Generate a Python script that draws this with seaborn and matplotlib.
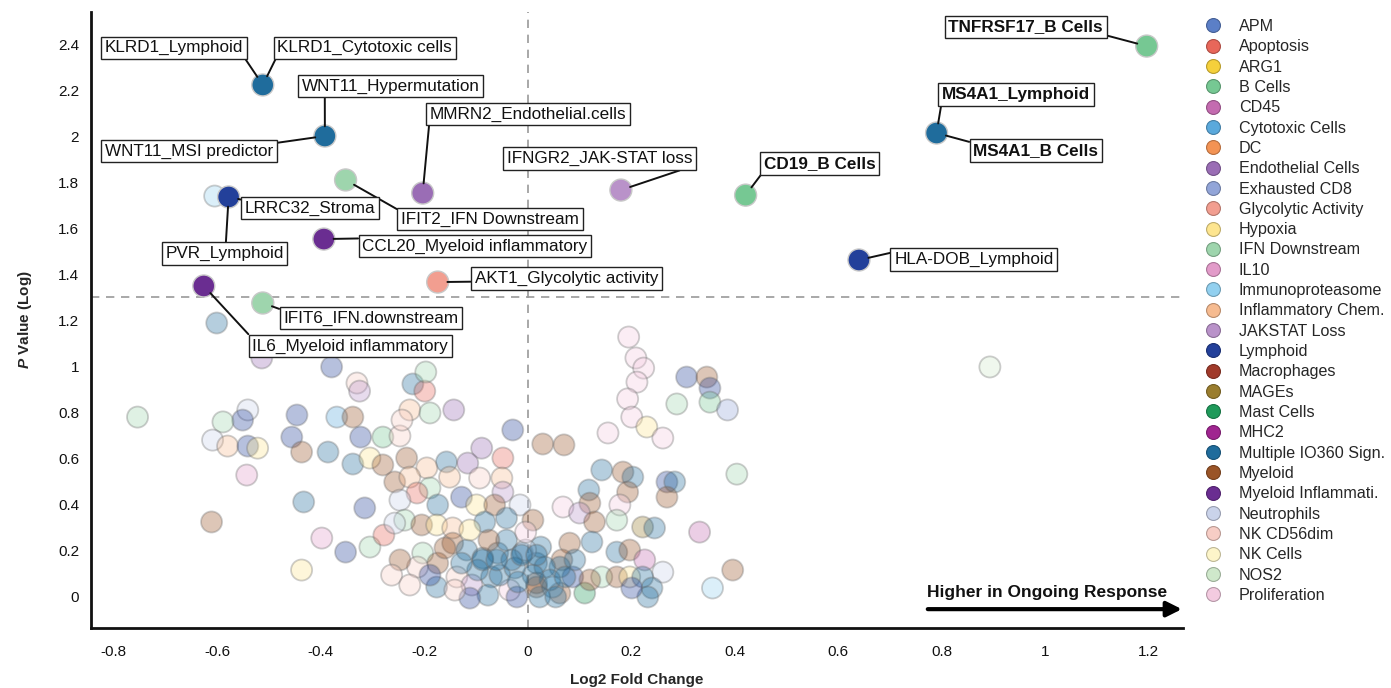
import matplotlib
matplotlib.use("Agg")
import matplotlib.pyplot as plt
import matplotlib.colors as mcolors
import seaborn as sns
import pandas as pd
from matplotlib.lines import Line2D
from matplotlib.ticker import FuncFormatter, MultipleLocator

# ---------------- data ----------------
categories = ["APM", "Apoptosis", "ARG1", "B Cells", "CD45", "Cytotoxic Cells", "DC",
              "Endothelial Cells", "Exhausted CD8", "Glycolytic Activity", "Hypoxia",
              "IFN Downstream", "IL10", "Immunoproteasome", "Inflammatory Chem.",
              "JAKSTAT Loss", "Lymphoid", "Macrophages", "MAGEs", "Mast Cells", "MHC2",
              "Multiple IO360 Sign.", "Myeloid", "Myeloid Inflammati.", "Neutrophils",
              "NK CD56dim", "NK Cells", "NOS2", "Proliferation"]
category_colors = ["#5b7fc7", "#e8675a", "#f5d03b", "#76c893", "#c46bb0", "#5aa9dc", "#f39354",
                   "#9a6db5", "#92a5d8", "#f29e90", "#fde58f", "#9ed5ad", "#e29bc9", "#92d0ef",
                   "#f6bb90", "#b992c9", "#23409a", "#a13a2a", "#9a7d2e", "#1f9a5a", "#a02590",
                   "#1f6c9c", "#9a5427", "#6a2d91", "#cad3ea", "#f7cdc5", "#fdf5c9", "#cfe8cb",
                   "#f3cbe0"]

# non-significant / background signatures
bg_x = [-0.754, -0.601, -0.605, -0.514, -0.379, -0.330, -0.325, -0.222, -0.199, -0.197,
        -0.541, -0.551, -0.589, -0.609, -0.580, -0.541, -0.522, -0.446, -0.456, -0.437,
        -0.369, -0.338, -0.386, -0.323, -0.280, -0.247, -0.338, -0.305, -0.280, -0.234,
        -0.257, -0.543, -0.433, -0.315, -0.611, -0.398, -0.352, -0.305, -0.278, -0.437,
        -0.176, -0.143, -0.228, -0.243, -0.189, -0.029, -0.089, -0.157, -0.116, -0.048,
        -0.195, -0.228, -0.151, -0.093, -0.050, -0.048, -0.189, -0.214, -0.247, -0.174,
        -0.128, -0.099, -0.064, -0.015, -0.238, -0.205, -0.176, -0.145, -0.083, -0.041,
        0.010, -0.257, -0.203, -0.174, -0.213, -0.145, -0.118, -0.087, -0.058, -0.041,
        -0.010, 0.017, -0.137, -0.108, -0.070, -0.035, -0.021, 0.017, 0.195, 0.209,
        0.224, 0.211, 0.193, 0.201, 0.230, 0.261, 0.155, 0.307, 0.346, 0.352,
        0.288, 0.352, 0.386, 0.029, 0.070, 0.404, 0.143, 0.184, 0.203, 0.193,
        0.118, 0.120, 0.178, 0.269, 0.284, 0.269, 0.068, 0.100, 0.129, 0.172,
        0.222, 0.245, 0.332, 0.124, 0.081, 0.172, 0.197, 0.066, 0.226, 0.261,
        0.396, 0.357, 0.143, 0.172, 0.197, 0.222, 0.240, 0.232, 0.201, 0.110,
        0.062, 0.048, 0.017, 0.087, 0.062, 0.893, 0.025, 0.033, 0.043, 0.010,
        0.023, 0.054, 0.091, 0.120, -0.054, -0.025, -0.077, -0.112, -0.141, -0.004,
        -0.004, -0.075, -0.112, -0.160, -0.189, -0.247, -0.263, -0.228, -0.031, -0.097,
        -0.128, -0.087, -0.060, -0.012, 0.017, 0.072, -0.019]
bg_y = [0.778, 1.187, 1.739, 1.035, 0.996, 0.926, 0.891, 0.922, 0.891, 0.974,
        0.809, 0.765, 0.757, 0.678, 0.652, 0.652, 0.643, 0.787, 0.691, 0.626,
        0.778, 0.778, 0.626, 0.691, 0.691, 0.696, 0.574, 0.600, 0.570, 0.600,
        0.496, 0.526, 0.409, 0.383, 0.322, 0.252, 0.191, 0.213, 0.265, 0.113,
        0.039, 0.809, 0.809, 0.765, 0.796, 0.722, 0.643, 0.583, 0.578, 0.600,
        0.557, 0.517, 0.517, 0.513, 0.513, 0.452, 0.470, 0.448, 0.417, 0.396,
        0.430, 0.396, 0.396, 0.396, 0.330, 0.309, 0.309, 0.296, 0.322, 0.339,
        0.330, 0.317, 0.187, 0.143, 0.126, 0.230, 0.200, 0.165, 0.187, 0.243,
        0.187, 0.143, 0.083, 0.048, 0.083, 0.026, -0.004, 0.057, 1.126, 1.035,
        0.991, 0.930, 0.857, 0.778, 0.735, 0.687, 0.709, 0.952, 0.952, 0.904,
        0.835, 0.843, 0.809, 0.661, 0.657, 0.530, 0.548, 0.539, 0.517, 0.452,
        0.461, 0.404, 0.396, 0.496, 0.496, 0.430, 0.387, 0.361, 0.322, 0.330,
        0.300, 0.296, 0.278, 0.235, 0.230, 0.191, 0.200, 0.157, 0.157, 0.104,
        0.113, 0.035, 0.083, 0.083, 0.083, 0.083, 0.035, -0.004, 0.035, 0.013,
        0.013, 0.039, 0.039, 0.083, 0.126, 0.996, 0.213, 0.126, 0.070, 0.091,
        -0.004, -0.004, 0.157, 0.070, 0.091, 0.122, 0.004, -0.009, 0.026, 0.200,
        0.278, 0.243, 0.287, 0.209, 0.091, 0.157, 0.091, 0.048, 0.157, 0.113,
        0.143, 0.157, 0.157, 0.178, 0.178, 0.083, 0.061]
bg_cat = ["IFN Downstream", "Multiple IO360 Sign.", "Immunoproteasome", "Endothelial Cells",
          "Lymphoid", "NK CD56dim", "JAKSTAT Loss", "Multiple IO360 Sign.", "Apoptosis",
          "IFN Downstream",
          "Neutrophils", "Lymphoid", "IFN Downstream", "Neutrophils", "Inflammatory Chem.",
          "Lymphoid", "Hypoxia", "Lymphoid", "Lymphoid", "Myeloid",
          "Cytotoxic Cells", "Myeloid", "Multiple IO360 Sign.", "Lymphoid", "B Cells",
          "NK CD56dim", "Multiple IO360 Sign.", "Hypoxia", "Myeloid", "Myeloid",
          "Myeloid", "IL10", "Multiple IO360 Sign.", "Lymphoid", "Myeloid",
          "IL10", "Lymphoid", "IFN Downstream", "Apoptosis", "Hypoxia",
          "Multiple IO360 Sign.", "Endothelial Cells", "Inflammatory Chem.", "NK CD56dim",
          "IFN Downstream", "Lymphoid", "Endothelial Cells", "Multiple IO360 Sign.",
          "Endothelial Cells", "Apoptosis",
          "Inflammatory Chem.", "Inflammatory Chem.", "Inflammatory Chem.", "NK CD56dim",
          "Inflammatory Chem.", "JAKSTAT Loss", "IFN Downstream", "Apoptosis", "Neutrophils",
          "Multiple IO360 Sign.",
          "Lymphoid", "Hypoxia", "Myeloid", "Neutrophils", "IFN Downstream",
          "Myeloid", "Hypoxia", "Inflammatory Chem.", "Multiple IO360 Sign.",
          "Multiple IO360 Sign.",
          "Myeloid", "Neutrophils", "IFN Downstream", "Myeloid", "NK CD56dim",
          "Myeloid", "Multiple IO360 Sign.", "Multiple IO360 Sign.", "Multiple IO360 Sign.",
          "Multiple IO360 Sign.",
          "Multiple IO360 Sign.", "Multiple IO360 Sign.", "NK CD56dim", "JAKSTAT Loss",
          "Multiple IO360 Sign.", "Proliferation", "Lymphoid", "Myeloid", "Proliferation",
          "Proliferation",
          "Proliferation", "Proliferation", "Proliferation", "Proliferation", "Hypoxia",
          "Proliferation", "Proliferation", "Lymphoid", "Myeloid", "Lymphoid",
          "IFN Downstream", "B Cells", "Exhausted CD8", "Myeloid", "Myeloid",
          "IFN Downstream", "Multiple IO360 Sign.", "Myeloid", "Multiple IO360 Sign.", "Myeloid",
          "Multiple IO360 Sign.", "Myeloid", "Proliferation", "Lymphoid",
          "Multiple IO360 Sign.", "Myeloid", "Proliferation", "JAKSTAT Loss", "Myeloid",
          "IFN Downstream",
          "MAGEs", "Multiple IO360 Sign.", "CD45", "Multiple IO360 Sign.", "Myeloid",
          "Multiple IO360 Sign.", "Myeloid", "Myeloid", "CD45", "Neutrophils",
          "Myeloid", "Immunoproteasome", "IFN Downstream", "Myeloid", "Hypoxia",
          "Multiple IO360 Sign.", "Multiple IO360 Sign.", "Multiple IO360 Sign.", "Lymphoid",
          "Mast Cells",
          "Myeloid", "Cytotoxic Cells", "Myeloid", "Lymphoid", "Multiple IO360 Sign.",
          "NOS2", "Multiple IO360 Sign.", "Multiple IO360 Sign.", "Multiple IO360 Sign.",
          "Multiple IO360 Sign.",
          "Multiple IO360 Sign.", "Multiple IO360 Sign.", "Multiple IO360 Sign.", "Myeloid",
          "Multiple IO360 Sign.", "Multiple IO360 Sign.", "Multiple IO360 Sign.", "Lymphoid",
          "NK CD56dim", "Neutrophils",
          "Proliferation", "Myeloid", "Hypoxia", "Myeloid", "Lymphoid", "Myeloid",
          "NK CD56dim", "NK CD56dim", "Multiple IO360 Sign.", "Multiple IO360 Sign.",
          "Multiple IO360 Sign.", "Multiple IO360 Sign.", "Multiple IO360 Sign.",
          "Multiple IO360 Sign.", "Multiple IO360 Sign.", "Multiple IO360 Sign.",
          "Multiple IO360 Sign."]

# significant / highlighted signatures
hl_x = [1.196, 0.790, -0.512, -0.392, 0.421, 0.640, 0.180, -0.203, -0.352, -0.578,
        -0.394, -0.174, -0.626, -0.512]
hl_y = [2.391, 2.013, 2.222, 2.000, 1.743, 1.461, 1.765, 1.752, 1.809, 1.735,
        1.552, 1.365, 1.348, 1.274]
hl_cat = ["B Cells", "Multiple IO360 Sign.", "Multiple IO360 Sign.", "Multiple IO360 Sign.",
          "B Cells", "Lymphoid", "JAKSTAT Loss", "Endothelial Cells", "IFN Downstream",
          "Lymphoid", "Myeloid Inflammati.", "Glycolytic Activity", "Myeloid Inflammati.",
          "IFN Downstream"]

label_text = ["TNFRSF17_B Cells", "MS4A1_Lymphoid", "MS4A1_B Cells", "KLRD1_Lymphoid",
              "KLRD1_Cytotoxic cells", "WNT11_Hypermutation", "WNT11_MSI predictor",
              "CD19_B Cells", "HLA-DOB_Lymphoid", "IFNGR2_JAK-STAT loss",
              "MMRN2_Endothelial.cells", "IFIT2_IFN Downstream", "LRRC32_Stroma",
              "PVR_Lymphoid", "CCL20_Myeloid inflammatory", "AKT1_Glycolytic activity",
              "IL6_Myeloid inflammatory", "IFIT6_IFN.downstream"]
label_point = [0, 1, 1, 2, 2, 3, 3, 4, 5, 6, 7, 8, 9, 9, 10, 11, 12, 13]
label_bold = [True, True, True, False, False, False, False, True, False, False,
              False, False, False, False, False, False, False, False]

# ---------------- layout (label box centres, connector anchors) ----------------
label_pos = [(0.962, 2.474), (0.943, 2.180), (0.982, 1.937), (-0.684, 2.383),
             (-0.315, 2.383), (-0.265, 2.217), (-0.655, 1.935), (0.564, 1.880),
             (0.862, 1.463), (0.139, 1.902), (0.000, 2.096), (-0.073, 1.639),
             (-0.420, 1.687), (-0.586, 1.489), (-0.102, 1.522), (0.075, 1.380),
             (-0.343, 1.087), (-0.303, 1.209)]
label_relpos = [(1, 0), (0, 0), (0, 1), (1, 0), (0, 0), (0.13, 0), (1, 1), (0, 0),
                (0, 1), (1, 0), (0, 0), (0, 1), (0, 1), (0.51, 1), (0, 1), (0, 0.3),
                (0, 1), (0, 1)]

# ---------------- style ----------------
sns.set_style("white")
plt.rcParams["font.family"] = ["Liberation Sans", "DejaVu Sans"]
plt.rcParams["mathtext.fontset"] = "custom"
plt.rcParams["mathtext.it"] = "Liberation Sans:italic:bold"
plt.rcParams["mathtext.rm"] = "Liberation Sans:bold"

palette = dict(zip(categories, category_colors))

fig = plt.figure(figsize=(13.91, 6.88), dpi=100)
ax = fig.add_axes([0.0654, 0.0872, 0.7850, 0.8953])

bg = pd.DataFrame({"x": bg_x, "y": bg_y, "cat": bg_cat})
hl = pd.DataFrame({"x": hl_x, "y": hl_y, "cat": hl_cat})

ax.axhline(1.3, color="#9a9a9a", lw=1.2, ls=(0, (5, 4)), zorder=0)
ax.axvline(0, color="#9a9a9a", lw=1.2, ls=(0, (5, 4)), zorder=0)

sns.scatterplot(data=bg, x="x", y="y", hue="cat", palette=palette, s=230, alpha=0.33,
                edgecolor="#6a6a6a", linewidth=1.3, legend=False, ax=ax, zorder=2)
sns.scatterplot(data=hl, x="x", y="y", hue="cat", palette=palette, s=250, alpha=1.0,
                edgecolor="#c8c8c8", linewidth=1.0, legend=False, ax=ax, zorder=3)

for txt, pi, bold, pos, rp in zip(label_text, label_point, label_bold, label_pos, label_relpos):
    ax.annotate(txt, xy=(hl_x[pi], hl_y[pi]), xytext=pos, ha="center", va="center",
                fontsize=12.3, fontweight="bold" if bold else "normal", color="#111111",
                bbox=dict(boxstyle="square,pad=0.22", fc="white", ec="#222222", lw=1.0),
                arrowprops=dict(arrowstyle="-", color="#111111", lw=1.4, shrinkA=0,
                                shrinkB=7, relpos=rp),
                zorder=6)

ax.set_xlim(-0.844, 1.266)
ax.set_ylim(-0.139, 2.539)
ax.xaxis.set_major_locator(MultipleLocator(0.2))
ax.yaxis.set_major_locator(MultipleLocator(0.2))
fmt = FuncFormatter(lambda v, p: "{:g}".format(round(v, 2)))
ax.xaxis.set_major_formatter(fmt)
ax.yaxis.set_major_formatter(fmt)

for s in ["top", "right"]:
    ax.spines[s].set_visible(False)
for s in ["left", "bottom"]:
    ax.spines[s].set_linewidth(2.0)
    ax.spines[s].set_color("#111111")
ax.tick_params(axis="both", direction="out", length=4.5, width=1.5, labelsize=11,
               colors="#111111")
ax.tick_params(axis="x", pad=8)
ax.tick_params(axis="y", pad=4)
ax.set_xlabel("Log2 Fold Change", fontsize=11, fontweight="bold", labelpad=10)
ax.set_ylabel(r"$P$ Value (Log)", fontsize=11, fontweight="bold", labelpad=17)

# direction arrow
ax.annotate("", xy=(1.264, -0.057), xytext=(0.773, -0.057),
            arrowprops=dict(arrowstyle="-|>,head_length=0.9,head_width=0.45", lw=3,
                            color="black", shrinkA=0, shrinkB=0),
            annotation_clip=False)
ax.text(1.003, 0.017, "Higher in Ongoing Response", ha="center", va="center",
        fontsize=12.5, fontweight="bold", color="#111111")

handles = []
for c, col in zip(categories, category_colors):
    edge = tuple(v * 0.75 for v in mcolors.to_rgb(col))
    handles.append(Line2D([], [], marker="o", ls="", markersize=10, markerfacecolor=col,
                          markeredgecolor=edge, markeredgewidth=0.8, label=c))
fig.legend(handles=handles, loc="upper left", bbox_to_anchor=(1205 / 1391, 1 - 19 / 688),
           frameon=False, fontsize=11.6, handlelength=1.0, handletextpad=1.1,
           labelspacing=0.33, borderpad=0, borderaxespad=0)

fig.savefig("out.png", dpi=100)
